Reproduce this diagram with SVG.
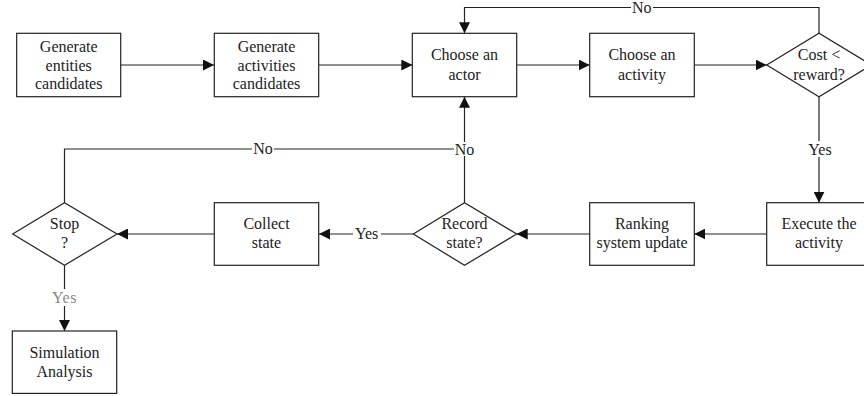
<svg xmlns="http://www.w3.org/2000/svg" width="864" height="396" viewBox="0 0 864 396">
<style>
.box{fill:#fff;stroke:#222;stroke-width:1.2}
.t{font-family:"Liberation Serif","Times New Roman",serif;font-size:16px;fill:#222;text-anchor:middle}
.ln{fill:none;stroke:#222;stroke-width:1.2}
.bg{fill:#fff}
.g{font-family:"Liberation Serif","Times New Roman",serif;font-size:16px;fill:#888;text-anchor:middle;letter-spacing:0.5px}
</style>
<defs>
<marker id="ar" markerUnits="userSpaceOnUse" markerWidth="11" markerHeight="11" refX="10" refY="5" orient="auto" viewBox="0 0 10 10">
<path d="M0,0 L10,5 L0,10 z" fill="#111"/>
</marker>
</defs>
<rect width="864" height="396" fill="#fff"/>
<g id="connectors">
<path class="ln" d="M121,65 H214" marker-end="url(#ar)"/>
<path class="ln" d="M319,65 H412.3" marker-end="url(#ar)"/>
<path class="ln" d="M516.7,65 H589.7" marker-end="url(#ar)"/>
<path class="ln" d="M694.3,65 H766.7" marker-end="url(#ar)"/>
<path class="ln" d="M819,33.3 V7.5 H464.5 V33.3" marker-end="url(#ar)"/>
<path class="ln" d="M819,96.7 V202.7" marker-end="url(#ar)"/>
<path class="ln" d="M766.7,234 H694.3" marker-end="url(#ar)"/>
<path class="ln" d="M589.7,234 H516.7" marker-end="url(#ar)"/>
<path class="ln" d="M413.3,234 H319" marker-end="url(#ar)"/>
<path class="ln" d="M214,234 H117" marker-end="url(#ar)"/>
<path class="ln" d="M464.5,202.7 V96.7" marker-end="url(#ar)"/>
<path class="ln" d="M64.5,202.7 V149 H464.5"/>
<path class="ln" d="M64.5,265.3 V331" marker-end="url(#ar)"/>
<rect class="bg" x="631" y="1" width="22" height="14"/>
<text class="t" x="641.7" y="13">No</text>
<rect class="bg" x="454" y="142" width="21" height="14"/>
<text class="t" x="464.5" y="155">No</text>
<rect class="bg" x="252" y="142" width="22" height="14"/>
<text class="t" x="263" y="154">No</text>
<rect class="bg" x="806" y="141" width="28" height="16"/>
<text class="t" x="820" y="155">Yes</text>
<rect class="bg" x="353" y="226" width="28" height="16"/>
<text class="t" x="366.7" y="239.3">Yes</text>
<rect class="bg" x="50" y="289" width="29" height="17"/>
<text class="g" x="64.5" y="303">Yes</text>
</g>
<g id="n1"><rect class="box" x="16.7" y="33.3" width="104" height="63.4"/>
<text class="t" x="68.7" y="52">Generate</text><text class="t" x="68.7" y="70.5">entities</text><text class="t" x="68.7" y="89">candidates</text></g>
<g id="n2"><rect class="box" x="214.3" y="33.3" width="104.4" height="63.4"/>
<text class="t" x="266.5" y="52">Generate</text><text class="t" x="266.5" y="70.5">activities</text><text class="t" x="266.5" y="89">candidates</text></g>
<g id="n3"><rect class="box" x="412.3" y="33.3" width="104.4" height="63.4"/>
<text class="t" x="464.5" y="60">Choose an</text><text class="t" x="464.5" y="80">actor</text></g>
<g id="n4"><rect class="box" x="589.7" y="33.3" width="104.6" height="63.4"/>
<text class="t" x="642" y="60">Choose an</text><text class="t" x="642" y="80">activity</text></g>
<g id="n5"><path class="box" d="M766.7,65 L819,33.3 L871.3,65 L819,96.7 Z"/>
<text class="t" x="819" y="60">Cost &lt;</text><text class="t" x="819" y="80">reward?</text></g>
<g id="n6"><rect class="box" x="766.7" y="202.7" width="104.6" height="62.6"/>
<text class="t" x="819" y="229.3">Execute the</text><text class="t" x="819" y="248.3">activity</text></g>
<g id="n7"><rect class="box" x="589.7" y="202.7" width="104.6" height="62.6"/>
<text class="t" x="642" y="229.3">Ranking</text><text class="t" x="642" y="248.3">system update</text></g>
<g id="n8"><path class="box" d="M413.3,234 L464.5,202.7 L516.7,234 L464.5,265.3 Z"/>
<text class="t" x="464.5" y="229.3">Record</text><text class="t" x="464.5" y="248.3">state?</text></g>
<g id="n9"><rect class="box" x="214.3" y="202.7" width="104.4" height="62.6"/>
<text class="t" x="266.5" y="229.3">Collect</text><text class="t" x="266.5" y="248.3">state</text></g>
<g id="n10"><path class="box" d="M12.7,234 L64.5,202.7 L117,234 L64.5,265.3 Z"/>
<text class="t" x="64.5" y="228.5">Stop</text><text class="t" x="64.5" y="248.3">?</text></g>
<g id="n11"><rect class="box" x="12.3" y="331" width="104.4" height="62.4"/>
<text class="t" x="64.5" y="358.3">Simulation</text><text class="t" x="64.5" y="377">Analysis</text></g>
</svg>
